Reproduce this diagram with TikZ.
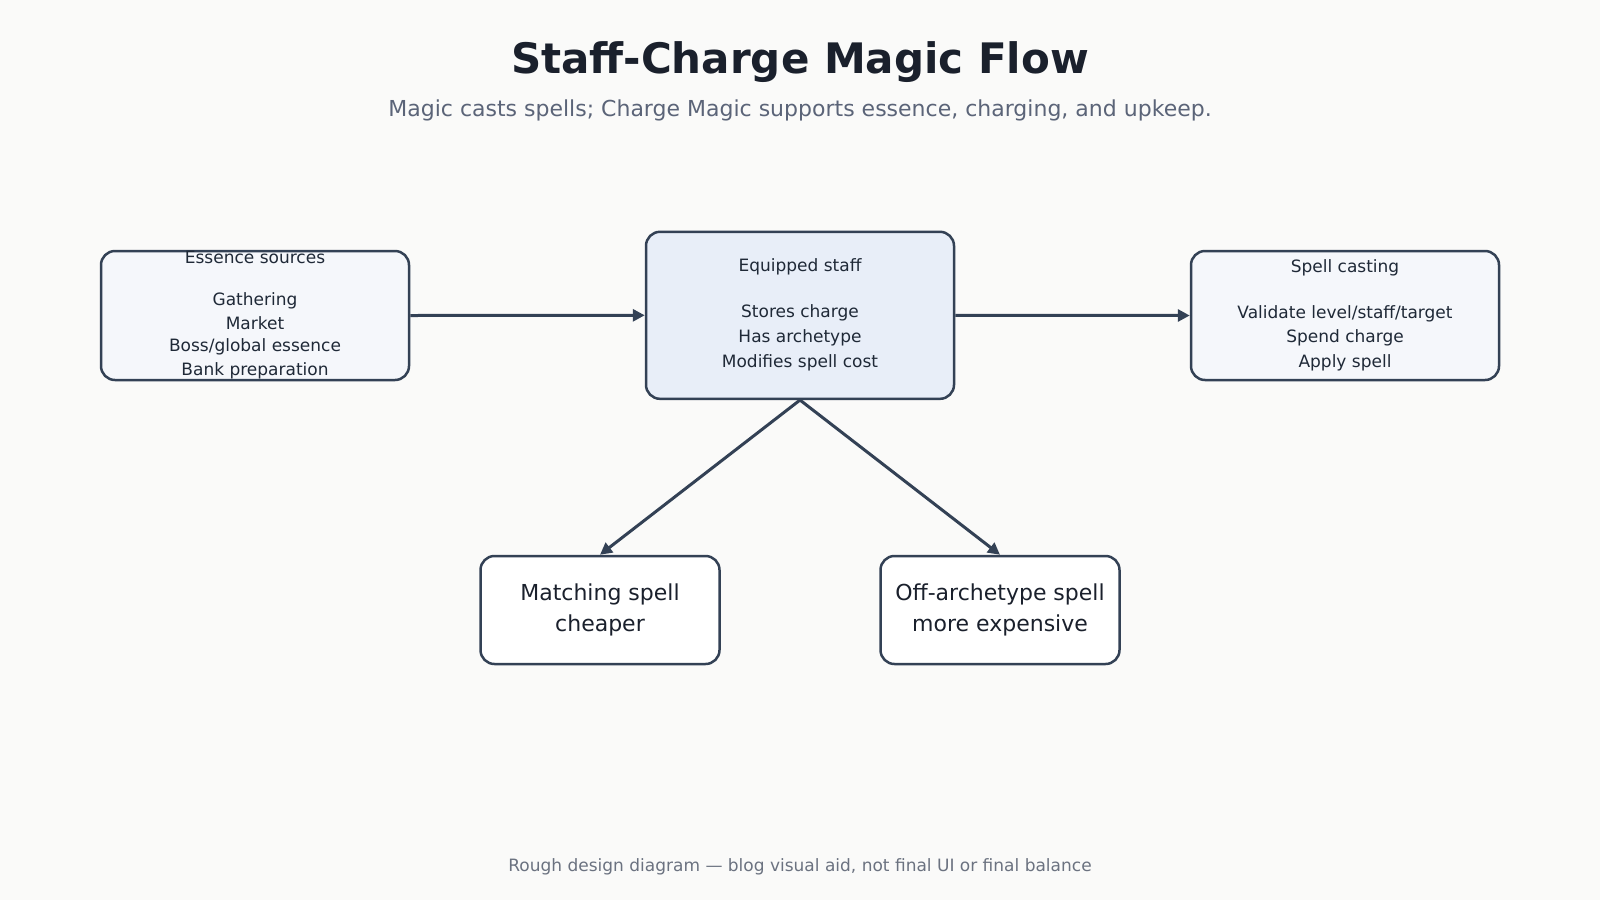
\documentclass[tikz,border=0pt]{standalone}
\usepackage{fontspec}
\setmainfont{DejaVu Sans}
\usetikzlibrary{arrows.meta,positioning}
\definecolor{page}{HTML}{FAFAF9}
\definecolor{edge}{HTML}{334155}
\definecolor{ink}{HTML}{1F2937}
\definecolor{titleink}{HTML}{1A202C}
\definecolor{subink}{HTML}{5B6478}
\definecolor{footink}{HTML}{6B7280}
\definecolor{sidefill}{HTML}{F5F7FB}
\definecolor{stafffill}{HTML}{E8EEF8}
\begin{document}
\begin{tikzpicture}[x=1pt,y=-1pt,
    box/.style={draw=edge,line width=2.5pt,rounded corners=14pt,align=center,inner sep=0pt,text=ink},
    side/.style={box,fill=sidefill,minimum width=308pt,minimum height=129pt,font=\fontsize{17}{24.5}\selectfont},
    staffbox/.style={box,fill=stafffill,minimum width=308pt,minimum height=167pt,font=\fontsize{17}{25}\selectfont},
    result/.style={box,fill=white,minimum width=239pt,minimum height=108pt,font=\fontsize{22}{30.5}\selectfont,text=titleink},
    flow/.style={draw=edge,line width=3pt,-{Triangle[length=12pt,width=12pt]}}]
  \fill[page] (0,0) rectangle (1600,900);
  \useasboundingbox (0,0) rectangle (1600,900);

  % headings
  \node[anchor=base,text=titleink,font=\fontsize{42}{50}\selectfont\bfseries] (title) at (800,73) {Staff-Charge Magic Flow};
  \node[anchor=base,text=subink,font=\fontsize{22}{26}\selectfont] (subtitle) at (800,116.5) {Magic casts spells; Charge Magic supports essence, charging, and upkeep.};

  % top row
  \node[side] (essence) at (255,315.5) {Essence sources\\[17pt]Gathering\\Market\\[-3pt]Boss/global essence\\Bank preparation};
  \node[staffbox] (staff) at (800,315.3) {Equipped staff\\[21pt]Stores charge\\Has archetype\\Modifies spell cost};
  \node[side] (casting) at (1345,315.5) {Spell casting\\[21pt]Validate level/staff/target\\Spend charge\\Apply spell};

  % bottom row
  \node[result] (cheaper) at (600,610) {Matching spell\\cheaper};
  \node[result] (pricier) at (1000,610) {Off-archetype spell\\more expensive};

  \draw[flow] (essence.east) -- (staff.west);
  \draw[flow] (staff.east) -- (casting.west);
  \draw[flow] (staff.south) -- (cheaper.north);
  \draw[flow] (staff.south) -- (pricier.north);

  \node[anchor=base,text=footink,font=\fontsize{17}{20}\selectfont] (footer) at (800,871.5) {Rough design diagram — blog visual aid, not final UI or final balance};
\end{tikzpicture}
\end{document}
